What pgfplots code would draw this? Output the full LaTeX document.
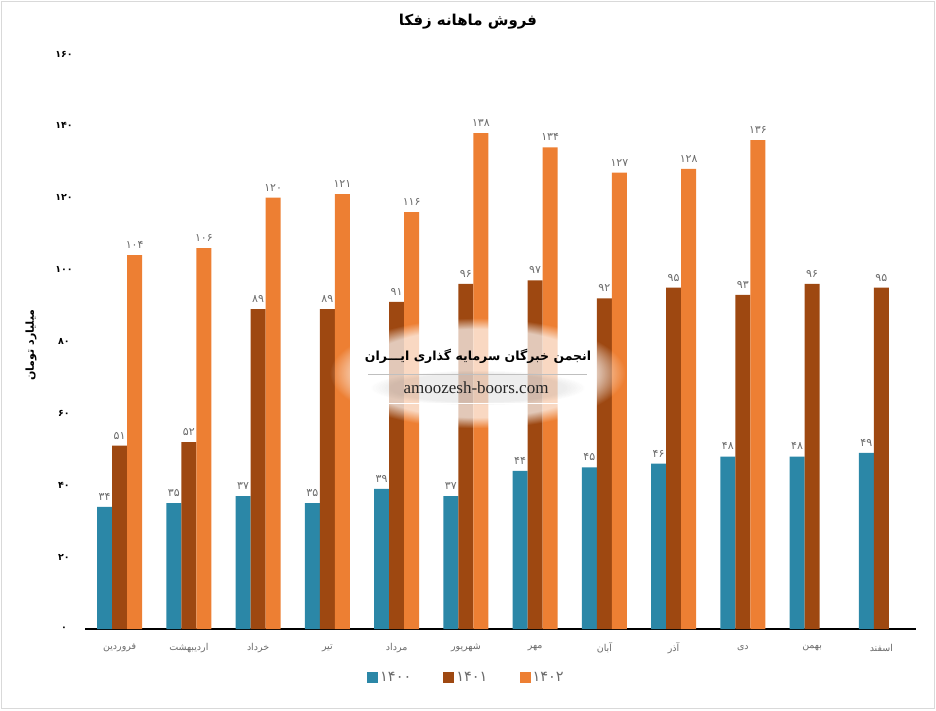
\documentclass[border=0pt]{standalone}
\usepackage{fontspec}
\usepackage{pgfplots}
\usetikzlibrary{fadings}
\pgfplotsset{compat=1.18}
\TeXXeTstate=1
\newfontfamily\arabicfont[Script=Arabic]{DejaVu Sans}
\newfontfamily\serifwm{Liberation Serif}
\definecolor{cA}{HTML}{2B87A7}
\definecolor{cB}{HTML}{9E4811}
\definecolor{cC}{HTML}{ED7F33}
\definecolor{lbl}{HTML}{6A6A6A}
\begin{document}
\begin{tikzpicture}[x=1pt,y=1pt]
\useasboundingbox (0pt,0pt) rectangle (936pt,710pt);
\draw[black!15, line width=1.5pt] (1.5pt,1.5pt) rectangle (934.5pt,708.5pt);
\begin{axis}[
  at={(85pt,81pt)}, anchor=south west,
  scale only axis, width=831pt, height=575pt,
  ybar=0pt, bar width=15pt,
  xmin=-0.5, xmax=11.5, ymin=0, ymax=160,
  axis x line*=bottom, axis y line*=left,
  x axis line style={-, black, line width=1.3pt},
  y axis line style={draw=none},
  xtick={0,...,11},
  xticklabels={فروردین,اردیبهشت,خرداد,تیر,مرداد,شهریور,مهر,آبان,آذر,دی,بهمن,اسفند},
  ytick={0,20,...,160},
  yticklabels={۰,۲۰,۴۰,۶۰,۸۰,۱۰۰,۱۲۰,۱۴۰,۱۶۰},
  major tick length=0pt,
  xticklabel style={font=\arabicfont\fontsize{9.5}{10}\selectfont, text=lbl, anchor=center, yshift=-19pt},
  yticklabel style={font=\arabicfont\bfseries\fontsize{9.5}{10}\selectfont, anchor=center, xshift=-21pt},
  nodes near coords, point meta=explicit symbolic,
  every node near coord/.append style={font=\arabicfont\fontsize{11}{13}\selectfont, text=lbl, yshift=3pt},
  legend style={at={(0.459,-0.085)}, anchor=center, draw=none, fill=none,
    legend columns=3, font=\arabicfont\fontsize{14.5}{16}\selectfont, text=lbl,
    /tikz/every even column/.append style={column sep=30pt}},
  legend image code/.code={\fill[#1] (0pt,-5.5pt) rectangle (11pt,5.5pt);},
]
\addplot[fill=cA, draw=none] coordinates {
 (0,34) [۳۴] (1,35) [۳۵] (2,37) [۳۷] (3,35) [۳۵] (4,39) [۳۹] (5,37) [۳۷]
 (6,44) [۴۴] (7,45) [۴۵] (8,46) [۴۶] (9,48) [۴۸] (10,48) [۴۸] (11,49) [۴۹]};
\addlegendentry{۱۴۰۰}
\addplot[fill=cB, draw=none] coordinates {
 (0,51) [۵۱] (1,52) [۵۲] (2,89) [۸۹] (3,89) [۸۹] (4,91) [۹۱] (5,96) [۹۶]
 (6,97) [۹۷] (7,92) [۹۲] (8,95) [۹۵] (9,93) [۹۳] (10,96) [۹۶] (11,95) [۹۵]};
\addlegendentry{۱۴۰۱}
\addplot[fill=cC, draw=none] coordinates {
 (0,104) [۱۰۴] (1,106) [۱۰۶] (2,120) [۱۲۰] (3,121) [۱۲۱] (4,116) [۱۱۶] (5,138) [۱۳۸]
 (6,134) [۱۳۴] (7,127) [۱۲۷] (8,128) [۱۲۸] (9,136) [۱۳۶]};
\addlegendentry{۱۴۰۲}
\end{axis}
\node[font=\arabicfont\bfseries\fontsize{15}{18}\selectfont] at (468pt,688pt) {\beginR فروش ماهانه زفکا\endR};
\node[rotate=90, font=\arabicfont\bfseries\fontsize{11}{13}\selectfont] at (31pt,365pt) {\beginR میلیارد تومان\endR};
\fill[white, opacity=0.7, path fading=circle with fuzzy edge 20 percent] (330pt,282pt) rectangle (625pt,392pt);
\fill[black, opacity=0.07, path fading=circle with fuzzy edge 20 percent] (370pt,305pt) rectangle (585pt,340pt);
\node[font=\arabicfont\bfseries\fontsize{12.5}{14}\selectfont] at (478pt,354pt) {\beginR انجمن خبرگان سرمایه گذاری ایـــران\endR};
\draw[black!25] (368pt,336pt) -- (587pt,336pt);
\node[font=\serifwm\fontsize{17}{19}\selectfont, text=black!85] at (476pt,322pt) {amoozesh-boors.com};
\draw[white, line width=1pt] (388pt,306pt) -- (586pt,306pt);
\end{tikzpicture}
\end{document}
